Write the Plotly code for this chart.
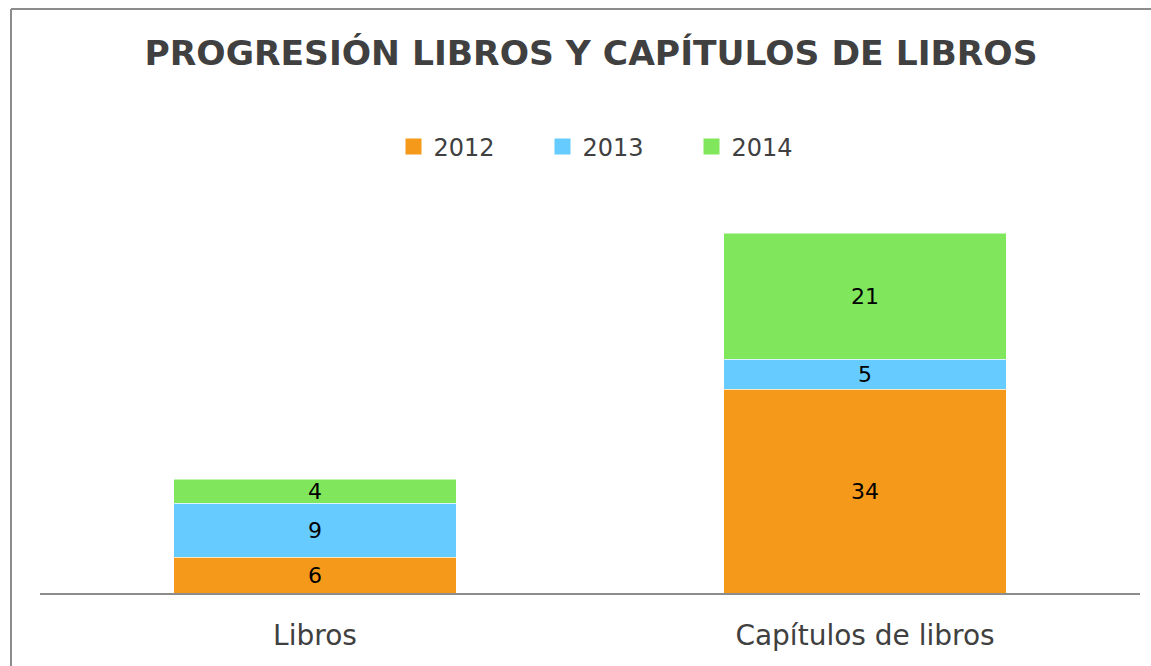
import plotly.graph_objects as go

categories = ["Libros", "Capítulos de libros"]
years = ["2012", "2013", "2014"]
values_2012 = [6, 34]
values_2013 = [9, 5]
values_2014 = [4, 21]
colors = ["#F4991A", "#66CCFF", "#80E65C"]

series = [values_2012, values_2013, values_2014]
font_family = "DejaVu Sans"

fig = go.Figure()
for name, vals, col in zip(years, series, colors):
    fig.add_trace(go.Bar(
        x=categories, y=vals, name=name,
        marker=dict(color=col, line=dict(color="rgba(255,255,255,0.5)", width=1)),
        text=[str(v) for v in vals], textposition="inside", insidetextanchor="middle",
        textangle=0, constraintext="none",
        textfont=dict(family=font_family, size=22, color="#000000"),
        showlegend=False, cliponaxis=False,
    ))
    fig.add_trace(go.Scatter(
        x=[None], y=[None], mode="markers", name=name,
        marker=dict(symbol="square", size=16, color=col),
        showlegend=True,
    ))

fig.update_layout(
    width=1151, height=666,
    barmode="stack", bargap=0.487,
    paper_bgcolor="white", plot_bgcolor="white",
    margin=dict(l=40, r=11, t=233, b=73),
    title=dict(text="<b>PROGRESIÓN LIBROS Y CAPÍTULOS DE LIBROS</b>",
               x=(591 - 40) / 1100 * (1100 / 1151) + 40 / 1151, xanchor="center",
               y=1 - 53 / 666, yanchor="middle",
               font=dict(family=font_family, size=34.5, color="#404040")),
    legend=dict(orientation="h", x=(393.5 - 40) / 1100, xanchor="left", y=(593 - 147) / 360, yanchor="middle",
                traceorder="normal", itemwidth=30,
                font=dict(family=font_family, size=24, color="#404040"),
                entrywidth=104, entrywidthmode="pixels", itemsizing="trace",
                bgcolor="rgba(0,0,0,0)"),
    xaxis=dict(showline=True, linecolor="#8C8C8C", linewidth=2, ticks="",
               ticklabelstandoff=16,
               tickfont=dict(family=font_family, size=28, color="#404040"),
               showgrid=False, zeroline=False),
    yaxis=dict(range=[0, 60], visible=False, showgrid=False, zeroline=False),
    shapes=[
        dict(type="line", xref="paper", yref="paper", x0=(11 - 40) / 1100, x1=(11 - 40) / 1100,
             y0=(593 - 9) / 360, y1=(593 - 700) / 360, line=dict(color="#8C8C8C", width=2)),
        dict(type="line", xref="paper", yref="paper", x0=(11 - 40) / 1100, x1=(1200 - 40) / 1100,
             y0=(593 - 9) / 360, y1=(593 - 9) / 360, line=dict(color="#8C8C8C", width=2)),
    ],
)

fig.write_html("out.html", config={"displayModeBar": False},
               post_script="document.body.style.margin='0';document.body.style.overflow='hidden';")
